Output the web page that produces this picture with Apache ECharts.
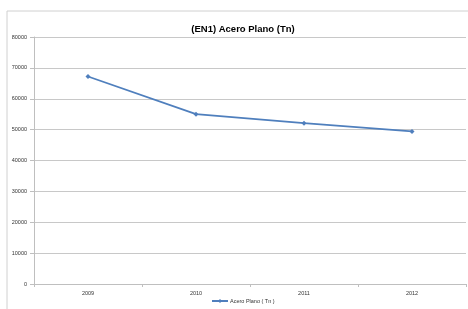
<!DOCTYPE html>
<html>
<head>
<meta charset="utf-8">
<script src="https://cdn.jsdelivr.net/npm/echarts@6/dist/echarts.min.js"></script>
<style>
  html, body { margin: 0; padding: 0; background: #fff; }
  #chart { width: 468px; height: 309px; }
</style>
</head>
<body>
<div id="chart"></div>
<script>
var years = ['2009', '2010', '2011', '2012'];
var aceroPlano = [67200, 55000, 52100, 49400];
var seriesName = 'Acero Plano ( Tn )';
var chartTitle = '(EN1) Acero Plano (Tn)';

var chart = echarts.init(document.getElementById('chart'));
chart.setOption({
  animation: false,
  backgroundColor: '#fff',
  graphic: [{
    type: 'rect',
    shape: { x: 7, y: 11, width: 470, height: 310 },
    style: { fill: 'none', stroke: '#d0d0d0', lineWidth: 1 },
    silent: true
  }],
  title: {
    text: chartTitle,
    left: 238,
    top: 19,
    textAlign: 'center',
    textStyle: { fontFamily: 'Liberation Sans', fontWeight: 'bold', fontSize: 9.5, color: '#000' }
  },
  legend: {
    bottom: 0,
    left: 206,
    itemWidth: 16,
    itemHeight: 5,
    itemGap: 4,
    textStyle: { fontFamily: 'Liberation Sans', fontSize: 5.5, color: '#333', padding: [0, 0, 0, -3] },
    data: [seriesName]
  },
  grid: { left: 34, right: 2, top: 37, bottom: 25, containLabel: false },
  xAxis: {
    type: 'category',
    data: years,
    boundaryGap: true,
    axisLine: { lineStyle: { color: '#bfbfbf', width: 1 } },
    axisTick: { show: true, length: 3, lineStyle: { color: '#bfbfbf' } },
    axisLabel: { fontFamily: 'Liberation Sans', fontSize: 5.5, color: '#333', margin: 6 }
  },
  yAxis: {
    type: 'value',
    min: 0,
    max: 80000,
    interval: 10000,
    axisLine: { show: true, lineStyle: { color: '#bfbfbf', width: 1 } },
    axisTick: { show: true, length: 4, lineStyle: { color: '#bfbfbf' } },
    axisLabel: {
      fontFamily: 'Liberation Sans', fontSize: 5.5, color: '#333', margin: 7,
      formatter: function (v) { return String(v); }
    },
    splitLine: { lineStyle: { color: '#c8c8c8', width: 1 } }
  },
  series: [{
    name: seriesName,
    type: 'line',
    data: aceroPlano,
    symbol: 'diamond',
    symbolSize: 5,
    lineStyle: { color: '#4f7fbd', width: 1.8 },
    itemStyle: { color: '#4f7fbd' }
  }]
});
</script>
</body>
</html>
